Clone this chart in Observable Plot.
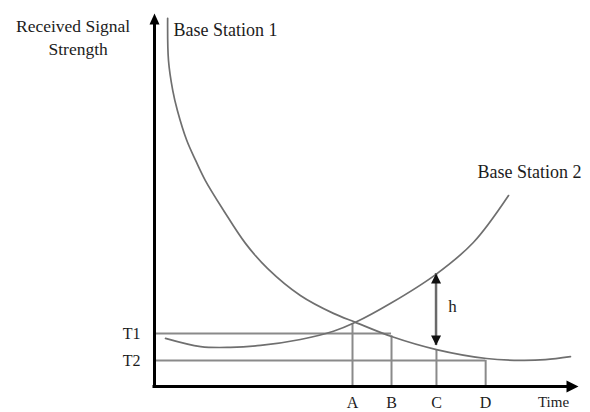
<!DOCTYPE html>
<html>
<head>
<meta charset="utf-8">
<script src="https://cdn.jsdelivr.net/npm/d3@7"></script>
<script src="https://cdn.jsdelivr.net/npm/@observablehq/plot@0.6"></script>
<style>
  html, body { margin: 0; padding: 0; background: #fff; }
  #chart svg { display: block; }
</style>
</head>
<body>
<div id="chart"></div>
<script>
// ---- Data (time and signal in arbitrary 0–100 units) ----
const bs1Time   = [3.1, 3.3, 4.3, 5.4, 7.6, 9.7, 12.0, 16.3, 21.5, 26.7, 34.4, 42.2, 47.4, 55.9, 66.5, 78.3, 86.3, 92.2, 98.1];
const bs1Signal = [98.7, 87.4, 79.4, 74.0, 66.0, 60.6, 55.2, 47.2, 38.3, 31.6, 24.4, 19.6, 17.2, 13.4, 9.9, 7.5, 7.0, 7.2, 8.0];

const bs2Time   = [2.6, 10.9, 17.9, 25.0, 34.4, 42.2, 47.4, 55.7, 66.3, 75.2, 83.5];
const bs2Signal = [12.9, 10.7, 10.5, 11.0, 12.6, 14.8, 17.2, 22.3, 30.0, 38.6, 51.2];

const markerNames = ["A", "B", "C", "D"];
const markerTimes = [46.7, 55.9, 66.5, 78.1];
const markerTops  = [16.9, 13.6, 9.9, 7.0];

const thresholdNames  = ["T1", "T2"];
const thresholdLevels = [14.2, 7.0];
const thresholdEnds   = [55.9, 78.1];

const hTime = 66.4;
const hTop = 30.3;
const hBottom = 11.0;

const yTitleLines  = ["Received Signal", "Strength"];
const yTitleTimes  = [-19.2, -18.0];
const yTitleLevels = [96.5, 90.3];

const seriesNames  = ["Base Station 1", "Base Station 2"];
const seriesTimes  = [4.5, 76.2];
const seriesLevels = [95.4, 57.5];

const hLabel = "h";
const hLabelTime = 70.3;
const hLabelLevel = 21.4;

const xTitle = "Time";
const xTitleTime = 94.1;

// ---- Build tables ----
const bs1 = bs1Time.map((t, i) => ({time: t, signal: bs1Signal[i]}));
const bs2 = bs2Time.map((t, i) => ({time: t, signal: bs2Signal[i]}));
const markers = markerNames.map((n, i) => ({name: n, time: markerTimes[i], top: markerTops[i]}));
const thresholds = thresholdNames.map((n, i) => ({name: n, level: thresholdLevels[i], end: thresholdEnds[i]}));
const yTitle = yTitleLines.map((t, i) => ({text: t, time: yTitleTimes[i], level: yTitleLevels[i]}));
const seriesLabels = seriesNames.map((t, i) => ({text: t, time: seriesTimes[i], level: seriesLevels[i]}));

// custom filled arrowheads, tip at origin
const triUp = {draw(c) { c.moveTo(0, 0); c.lineTo(-5, 11); c.lineTo(5, 11); c.closePath(); }};
const triRight = {draw(c) { c.moveTo(0, 0); c.lineTo(-12, -6); c.lineTo(-12, 6); c.closePath(); }};
const hUp = {draw(c) { c.moveTo(0, 0); c.lineTo(-5, 10); c.lineTo(5, 10); c.closePath(); }};
const hDown = {draw(c) { c.moveTo(0, 0); c.lineTo(-5, -10); c.lineTo(5, -10); c.closePath(); }};

const font = "'Liberation Serif', 'Times New Roman', serif";
const ink = "#1c1c1c";

const chart = Plot.plot({
  width: 590,
  height: 412,
  marginLeft: 154,
  marginRight: 12,
  marginTop: 13,
  marginBottom: 26,
  x: {domain: [0, 100]},
  y: {domain: [0, 100]},
  style: {fontFamily: font, fontSize: "16px", color: ink, background: "#fff"},
  marks: [
    // threshold lines
    Plot.ruleY(thresholds, {y: "level", x1: 0, x2: "end", stroke: "#8a8a8a", strokeWidth: 2}),
    // marker verticals
    Plot.ruleX(markers, {x: "time", y1: 0, y2: "top", stroke: "#8a8a8a", strokeWidth: 2}),
    // curves
    Plot.line(bs1, {x: "time", y: "signal", curve: "catmull-rom", stroke: "#6f6f6f", strokeWidth: 1.7}),
    Plot.line(bs2, {x: "time", y: "signal", curve: "catmull-rom", stroke: "#6f6f6f", strokeWidth: 1.7}),
    // h arrow
    Plot.ruleX([hTime], {y1: hBottom, y2: hTop, stroke: "#6a6a6a", strokeWidth: 2.5}),
    Plot.dot([{x: hTime, y: hTop}], {x: "x", y: "y", symbol: hUp, fill: "#111", stroke: "none"}),
    Plot.dot([{x: hTime, y: hBottom}], {x: "x", y: "y", symbol: hDown, fill: "#111", stroke: "none"}),
    // axes lines with arrows
    Plot.ruleX([0], {y1: 0, y2: 98, stroke: "#000", strokeWidth: 3, strokeLinecap: "square"}),
    Plot.ruleY([0], {x1: 0, x2: 98, stroke: "#000", strokeWidth: 3, strokeLinecap: "square"}),
    Plot.dot([{x: 0, y: 100}], {x: "x", y: "y", symbol: triUp, fill: "#000", stroke: "none"}),
    Plot.dot([{x: 100, y: 0}], {x: "x", y: "y", symbol: triRight, fill: "#000", stroke: "none"}),
    // axis tick labels
    Plot.axisX(markerTimes, {tickSize: 0, tickPadding: 10, tickFormat: d => markerNames[markerTimes.indexOf(d)], label: null, fontSize: 16}),
    Plot.axisY(thresholdLevels, {tickSize: 0, tickPadding: 14, tickFormat: d => thresholdNames[thresholdLevels.indexOf(d)], label: null, fontSize: 16}),
    // annotations
    Plot.text(yTitle, {x: "time", y: "level", text: "text", textAnchor: "middle", fontSize: 17.5, fill: ink}),
    Plot.text(seriesLabels, {x: "time", y: "level", text: "text", textAnchor: "start", fontSize: 18, fill: ink}),
    Plot.text([hLabel], {x: hLabelTime, y: hLabelLevel, text: d => d, fontSize: 17, fill: ink}),
    Plot.text([xTitle], {x: xTitleTime, y: 0, dy: 16, text: d => d, fontSize: 15, fill: ink})
  ]
});

document.getElementById("chart").appendChild(chart);
</script>
</body>
</html>
